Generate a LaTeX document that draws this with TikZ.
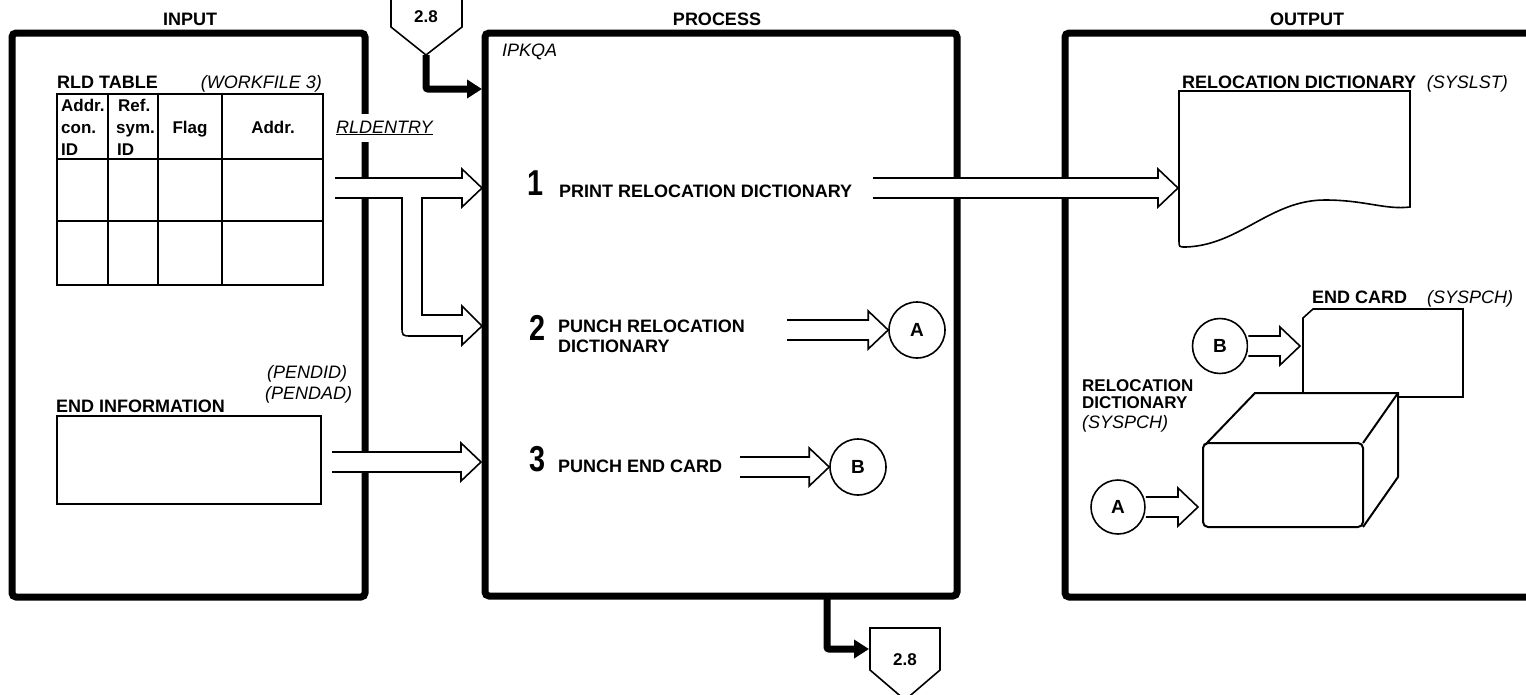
\documentclass[tikz,border=0pt]{standalone}
\usepackage{fontspec}
\setmainfont{Liberation Sans}
\usetikzlibrary{arrows.meta,calc}
\tikzset{
  lbl/.style={font=\bfseries\fontsize{18}{18}\selectfont, inner sep=0pt},
  hdr/.style={font=\bfseries\fontsize{17}{17}\selectfont, inner sep=0pt},
  ital/.style={font=\itshape\fontsize{18}{18}\selectfont, inner sep=0pt},
  framebox/.style={line width=7pt, rounded corners=4pt},
  thin/.style={line width=1.6pt},
  tabline/.style={line width=2pt},
  heavyarrow/.style={line width=7pt, rounded corners=2pt, -{Triangle[length=15pt,width=18pt]}},
  circ/.style={circle, draw, line width=1.6pt, minimum size=56pt, inner sep=0pt,
    font=\bfseries\fontsize{19}{19}\selectfont},
  fat/.style={to path={let \p1=(\tikztostart), \p2=(\tikztotarget) in
    (\x1,{\y1+10pt}) -- ({\x2-20pt},{\y1+10pt}) -- ({\x2-20pt},{\y1+19pt}) -- (\x2,\y1)
    -- ({\x2-20pt},{\y1-19pt}) -- ({\x2-20pt},{\y1-10pt}) -- (\x1,{\y1-10pt})}},
  fatarrow/.style={thin, fill=white},
  numlbl/.style={inner sep=0pt}
}
\newcommand{\stepnum}[1]{\scalebox{0.8}[1]{\bfseries\fontsize{36}{36}\selectfont #1}}
\begin{document}
\begin{tikzpicture}[x=1pt,y=-1pt]
\useasboundingbox (0,0) rectangle (1526,694);

% titles
\node[lbl, anchor=base] (tin) at (190,25) {INPUT};
\node[lbl, anchor=base] (tproc) at (717,25) {PROCESS};
\node[lbl, anchor=base] (tout) at (1307,25) {OUTPUT};

% frames
\draw[framebox] (12,33) rectangle (365,597);
\draw[framebox] (485,33) rectangle (957,596);
\draw[framebox] (1065,33) rectangle (1550,597);

% off-page connectors
\draw[thin, fill=white] (391,-10) -- (391,27) -- (426,55) -- (462,27) -- (462,-10);
\node[lbl, font=\bfseries\fontsize{17}{17}\selectfont, anchor=base] (c28a) at (426,22) {2.8};
\coordinate (offtop) at (426,55);
\coordinate (pin) at (482,89);
\draw[heavyarrow] (offtop) |- (pin);

\draw[thin, fill=white] (870,628) -- (940,628) -- (940,670) -- (905,700) -- (870,670) -- cycle;
\node[lbl, font=\bfseries\fontsize{17}{17}\selectfont, anchor=base] (c28b) at (905,665) {2.8};
\coordinate (pout) at (827,596);
\coordinate (offbot) at (869,649);
\draw[heavyarrow] (pout) |- (offbot);

% RLD table
\node[lbl, anchor=base west] (rldt) at (57,88) {RLD TABLE};
\node[ital, anchor=base east] (wf3) at (322,88) {(WORKFILE 3)};
\draw[tabline] (57,94) rectangle (323,285);
\draw[tabline] (108,94) -- (108,285) (158,94) -- (158,285) (222,94) -- (222,285);
\draw[tabline] (57,159) -- (323,159) (57,221) -- (323,221);
\node[hdr, anchor=base west] at (61,111) {Addr.};
\node[hdr, anchor=base west] at (61,133) {con.};
\node[hdr, anchor=base west] at (61,155) {ID};
\node[hdr, anchor=base west] at (118,111) {Ref.};
\node[hdr, anchor=base west] at (116,133) {sym.};
\node[hdr, anchor=base west] at (117,155) {ID};
\node[hdr, anchor=base] at (190,133) {Flag};
\node[hdr, anchor=base] at (273,133) {Addr.};

\node[ital, anchor=base west, fill=white, inner xsep=1pt, inner ysep=7pt] (rlde) at (335,133) {\underline{RLDENTRY}};

% end information
\node[ital, anchor=base west] (pid) at (267,378) {(PENDID)};
\node[ital, anchor=base west] (pad) at (265,399) {(PENDAD)};
\node[lbl, anchor=base west] (einf) at (56,412) {END INFORMATION};
\draw[thin] (57,416) rectangle (321,504);

% process steps
\node[ital, anchor=base west] (ipk) at (502,56) {IPKQA};
\node[numlbl, anchor=base west] (n1) at (527,195) {\stepnum{1}};
\node[lbl, anchor=base west] (s1) at (559,197) {PRINT RELOCATION DICTIONARY};
\node[numlbl, anchor=base west] (n2) at (529,340) {\stepnum{2}};
\node[lbl, anchor=base west] (s2) at (558,332) {PUNCH RELOCATION};
\node[lbl, anchor=base west] (s2b) at (558,352) {DICTIONARY};
\node[numlbl, anchor=base west] (n3) at (529,471) {\stepnum{3}};
\node[lbl, anchor=base west] (s3) at (558,472) {PUNCH END CARD};

\node[circ] (Ap) at (917,330) {A};
\node[circ] (Bp) at (858,467) {B};

% input arrows
\draw[fatarrow] (335,178) -- (462,178) -- (462,169) -- (482,188) -- (462,207) -- (462,198)
  -- (422,198) -- (422,315) -- (462,315) -- (462,306) -- (482,326) -- (462,345) -- (462,336)
  -- (412,336) .. controls (402,336) .. (402,326) -- (402,198) -- (335,198);
\coordinate (eis) at (332,462);
\coordinate (p3in) at (481,462);
\draw[fatarrow] (eis) to[fat] (p3in);

% process arrows
\coordinate (a2s) at (787,330);
\draw[fatarrow] (a2s) to[fat] (Ap.west);
\coordinate (a3s) at (740,467);
\draw[fatarrow] (a3s) to[fat] (Bp.west);
\coordinate (a1s) at (873,188);
\coordinate (docin) at (1178,188);
\draw[fatarrow] (a1s) to[fat] (docin);

% output: printed document
\node[lbl, anchor=base west] (rdl) at (1182,88) {RELOCATION DICTIONARY};
\node[ital, anchor=base east] (sysl) at (1508,88) {(SYSLST)};
\draw[thin] (1186,247) .. controls (1240,245) and (1270,200) .. (1325,200)
  .. controls (1365,200) and (1385,210) .. (1410,207) -- (1410,91) -- (1179,91) -- (1179,241)
  .. controls (1179,247) .. (1186,247);

% output: end card
\node[lbl, anchor=base west] (ecl) at (1312,303) {END CARD};
\node[ital, anchor=base west] (sysp1) at (1427,303) {(SYSPCH)};
\draw[thin] (1303,393) -- (1303,318) -- (1313,309) -- (1463,309) -- (1463,397) -- (1398,397);

% output: card deck
\node[hdr, anchor=base west] (rd2a) at (1082,391) {RELOCATION};
\node[hdr, anchor=base west] (rd2b) at (1082,408) {DICTIONARY};
\node[ital, anchor=base west] (rd2c) at (1082,428) {(SYSPCH)};
\draw[tabline, rounded corners=5pt] (1203,527) -- (1203,443) -- (1363,443) -- (1363,527) -- cycle;
\draw[tabline] (1205,445) -- (1255,393) -- (1398,393) -- (1398,477) -- (1363,527);
\draw[tabline] (1363,443) -- (1398,393);

\node[circ, minimum size=55pt] (Bo) at (1220,346) {B};
\node[circ, minimum size=54pt] (Ao) at (1118,507) {A};
\coordinate (cardin) at (1300,346);
\coordinate (deckin) at (1198,507);
\draw[fatarrow] (Bo.east) to[fat] (cardin);
\draw[fatarrow] (Ao.east) to[fat] (deckin);
\end{tikzpicture}
\end{document}
